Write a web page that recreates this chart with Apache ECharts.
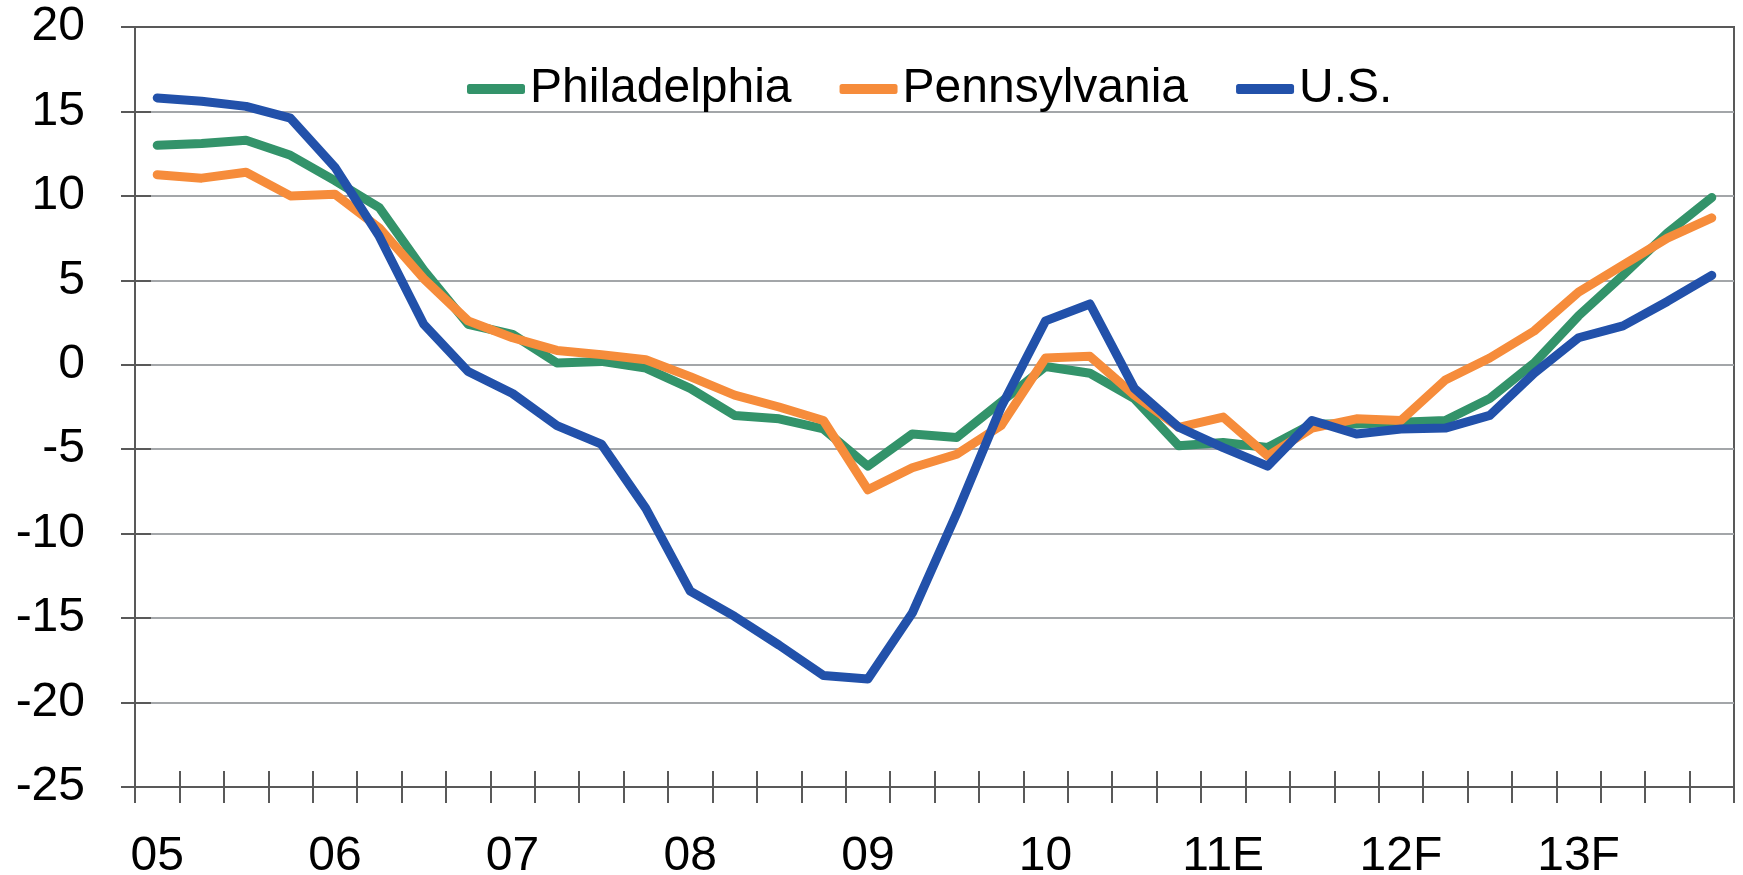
<!DOCTYPE html>
<html>
<head>
<meta charset="utf-8">
<script src="https://cdn.jsdelivr.net/npm/echarts@6/dist/echarts.min.js"></script>
<style>
  html, body { margin: 0; padding: 0; background: #fff; }
  #chart { width: 1743px; height: 875px; }
</style>
</head>
<body>
<div id="chart"></div>
<script>
// quarterly series, 2005 Q1 .. 2013 Q4
var years = ['05', '06', '07', '08', '09', '10', '11E', '12F', '13F'];

var philadelphia = [13.0, 13.1, 13.3, 12.4, 10.9, 9.3, 5.6, 2.4, 1.8, 0.1, 0.2, -0.2,
    -1.4, -3.0, -3.2, -3.8, -6.0, -4.1, -4.3, -2.2, -0.1, -0.5, -2.0, -4.8,
    -4.6, -4.9, -3.5, -3.5, -3.4, -3.3, -2.0, 0.1, 2.9, 5.3, 7.8, 9.9];

var pennsylvania = [11.25, 11.05, 11.4, 10.0, 10.1, 8.1, 5.1, 2.6, 1.6, 0.85, 0.6, 0.3,
    -0.7, -1.8, -2.5, -3.3, -7.4, -6.1, -5.3, -3.6, 0.4, 0.5, -1.8, -3.7,
    -3.1, -5.4, -3.75, -3.2, -3.3, -0.9, 0.4, 2.0, 4.3, 5.9, 7.5, 8.7];

var us = [15.8, 15.6, 15.3, 14.6, 11.7, 7.6, 2.4, -0.4, -1.7, -3.6, -4.7, -8.5,
    -13.4, -14.9, -16.6, -18.4, -18.6, -14.7, -8.8, -2.5, 2.6, 3.6, -1.4, -3.7,
    -4.9, -6.0, -3.3, -4.1, -3.8, -3.75, -3.0, -0.5, 1.6, 2.3, 3.75, 5.3];

var quarters = [];
years.forEach(function (y) {
    quarters.push(y, y + ' Q2', y + ' Q3', y + ' Q4');
});

var font = '"Liberation Sans", Arial, sans-serif';
var axisColor = '#595959';
var gridColor = '#a3a6a9';

var chart = echarts.init(document.getElementById('chart'));

var option = {
    animation: false,
    grid: {
        left: 135, right: 9, top: 27, bottom: 88,
        outerBoundsMode: 'none',
        show: true, borderColor: axisColor, borderWidth: 2
    },
    legend: {
        left: 462, top: 60,
        itemWidth: 58, itemHeight: 10, itemGap: 48,
        icon: 'roundRect',
        textStyle: { fontFamily: font, fontSize: 48, color: '#000' },
        data: ['Philadelphia', 'Pennsylvania', 'U.S.']
    },
    xAxis: [{
        type: 'category',
        data: quarters,
        boundaryGap: true,
        axisLine: { onZero: false, lineStyle: { color: axisColor, width: 2 } },
        axisTick: { show: true, interval: 0, length: 16, lineStyle: { color: axisColor, width: 2 } },
        axisLabel: {
            interval: 3, margin: 46,
            fontFamily: font, fontSize: 48, color: '#000',
            formatter: function (v) { return v.split(' ')[0]; }
        },
        splitLine: { show: false }
    }, {
        type: 'category',
        data: quarters,
        position: 'bottom',
        boundaryGap: true,
        axisLine: { show: false, onZero: false },
        axisTick: { show: true, interval: 0, inside: true, length: 16, lineStyle: { color: axisColor, width: 2 } },
        axisLabel: { show: false },
        splitLine: { show: false }
    }],
    yAxis: [{
        type: 'value',
        min: -25, max: 20, interval: 5,
        axisLine: { show: true, lineStyle: { color: axisColor, width: 2 } },
        axisTick: { show: true, length: 14, lineStyle: { color: axisColor, width: 2 } },
        axisLabel: { margin: 50, fontFamily: font, fontSize: 48, color: '#000' },
        splitLine: {
            lineStyle: {
                color: [gridColor, gridColor, gridColor, gridColor, gridColor,
                    gridColor, gridColor, gridColor, gridColor, axisColor],
                width: 2
            }
        }
    }, {
        type: 'value',
        min: -25, max: 20, interval: 5,
        position: 'left',
        axisLine: { show: false },
        axisTick: { show: true, inside: true, length: 16, lineStyle: { color: axisColor, width: 2 } },
        axisLabel: { show: false },
        splitLine: { show: false }
    }],
    series: [{
        name: 'Philadelphia',
        type: 'line',
        data: philadelphia,
        symbol: 'none',
        color: '#33936a',
        lineStyle: { width: 9, cap: 'round', join: 'round' }
    }, {
        name: 'Pennsylvania',
        type: 'line',
        data: pennsylvania,
        symbol: 'none',
        color: '#f68c3b',
        lineStyle: { width: 9, cap: 'round', join: 'round' }
    }, {
        name: 'U.S.',
        type: 'line',
        data: us,
        symbol: 'none',
        color: '#2251aa',
        lineStyle: { width: 9, cap: 'round', join: 'round' }
    }]
};

chart.setOption(option);
</script>
</body>
</html>
